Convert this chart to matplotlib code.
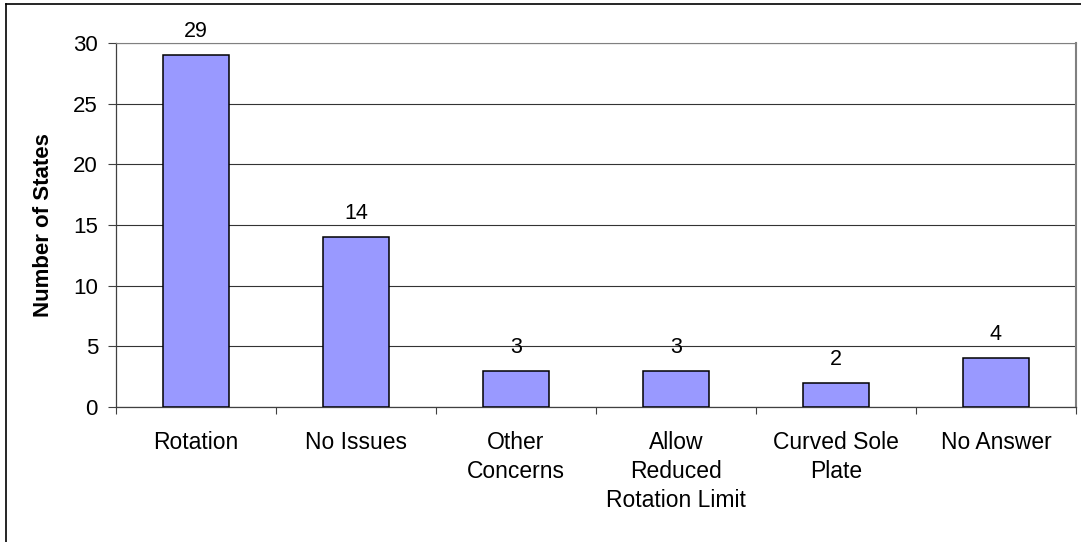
import matplotlib.pyplot as plt
from matplotlib.lines import Line2D

categories = ['Rotation', 'No Issues', 'Other\nConcerns', 'Allow\nReduced\nRotation Limit',
              'Curved Sole\nPlate', 'No Answer']
counts = [29, 14, 3, 3, 2, 4]

plt.rcParams['font.family'] = ['Liberation Sans', 'DejaVu Sans']

fig = plt.figure(figsize=(10.81, 5.42), dpi=100)
ax = fig.add_axes([116 / 1081, 1 - 407 / 542, 960 / 1081, 364 / 542])

x = range(len(categories))
bars = ax.bar(x, counts, width=0.41, color='#9999FF', edgecolor='black',
              linewidth=1.1, zorder=3)

for rect, v in zip(bars, counts):
    ax.annotate(str(v), (rect.get_x() + rect.get_width() / 2, v),
                xytext=(0, 13), textcoords='offset points',
                ha='center', va='baseline', fontsize=15.5)

ax.set_xlim(-0.5, len(categories) - 0.5)
ax.set_ylim(0, 30)
ax.set_yticks(range(0, 31, 5))
ax.tick_params(axis='y', labelsize=16, length=6, width=0.8, color='#404040', pad=7)

# category labels sit between boundary ticks
ax.set_xticks([i - 0.5 for i in range(len(categories) + 1)])
ax.set_xticklabels([])
ax.set_xticks(list(x), minor=True)
ax.set_xticklabels(categories, minor=True, fontsize=16.5, linespacing=1.35)
ax.tick_params(axis='x', which='major', length=5, width=0.8, color='#404040')
ax.tick_params(axis='x', which='minor', length=0, pad=17)

ax.yaxis.grid(True, color='#333333', linewidth=0.8, zorder=0)
ax.set_axisbelow(True)

for side in ['left', 'bottom']:
    ax.spines[side].set_color('#404040')
    ax.spines[side].set_linewidth(0.9)
ax.spines['top'].set_color('#808080')
ax.spines['right'].set_color('#808080')
ax.spines['right'].set_linewidth(1.5)

ax.set_ylabel('Number of States', fontsize=16, fontweight='bold')
ax.yaxis.set_label_coords(-0.065, 0.5)

# outer chart frame
fig.add_artist(Line2D([6 / 1081, 1.0], [1 - 4 / 542] * 2, color='black', linewidth=1.2))
fig.add_artist(Line2D([6 / 1081] * 2, [0.0, 1 - 4 / 542], color='black', linewidth=1.2))

fig.savefig('out.png', dpi=100)
